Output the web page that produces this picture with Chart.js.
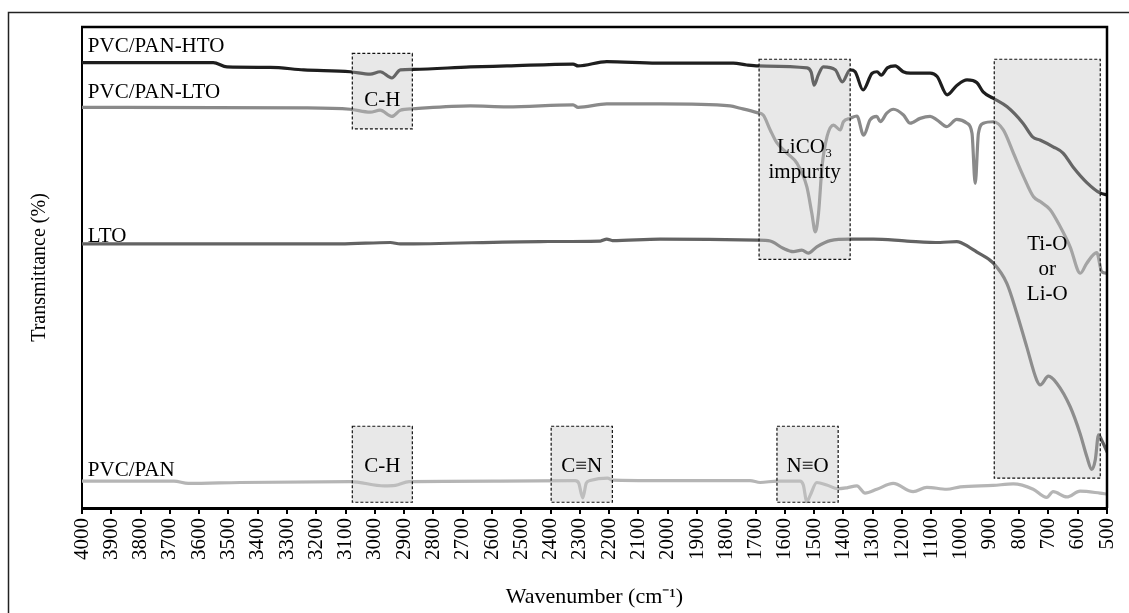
<!DOCTYPE html>
<html>
<head>
<meta charset="utf-8">
<script src="https://cdn.jsdelivr.net/npm/chart.js@4/dist/chart.umd.min.js"></script>
<style>
  html,body{margin:0;padding:0;background:#fff;}
  #wrap{width:1129px;height:613px;}
</style>
</head>
<body>
<div id="wrap"><canvas id="ftir" width="1129" height="613"></canvas></div>
<script>
/* ---------- spectra (wavenumber, cm-1 / transmittance, offset a.u.) ---------- */
const WN_HTO = [4000,3552,3505,3357,3243,3084,3016,2982,2942,2913,2868,2674,2549,2323,2306,2208,2037,1776,1730,1691,
                1524,1510,1500,1486,1469,1428,1404,1377,1360,1333,1302,1285,1271,1250,1223,1196,1172,1104,1080,1046,
                1012,978,944,923,889,841,787,753,729,684,650,616,568,524,500];
const T_HTO  = [92.6,92.6,91.7,91.6,91.1,90.7,90.2,90.7,89.4,91.1,91.2,91.7,91.9,92.3,91.9,92.8,92.5,92.5,92.1,91.9,
                91.5,90.6,87.9,90.0,91.7,91.1,88.6,91.1,90.7,86.9,90.4,90.7,90.0,91.5,91.9,90.7,90.4,90.4,89.7,85.9,
                87.9,89.0,88.4,86.5,85.2,83.4,80.0,77.1,76.5,75.1,73.8,70.9,67.6,65.5,65.1];

const WN_PLTO = [4000,3244,3084,3016,2982,2942,2913,2869,2674,2549,2323,2306,2208,2026,1787,1752,1695,1674,1650,1627,
                 1593,1559,1525,1508,1496,1485,1473,1456,1434,1411,1400,1377,1354,1331,1309,1286,1274,1252,1229,1195,
                 1172,1138,1104,1081,1047,1013,978,961,950,939,922,888,854,819,785,751,728,694,660,626,
                 591,569,535,518,500];
const T_PLTO  = [83.3,83.2,82.9,82.3,82.7,81.4,82.7,83.0,83.6,83.4,83.8,83.3,84.0,84.0,83.6,83.1,82.2,81.7,78.6,75.9,
                 73.8,71.7,66.8,61.3,57.4,61.3,71.0,77.2,79.6,78.6,80.3,81.0,81.5,77.5,80.7,81.4,80.3,82.1,82.9,81.7,
                 80.0,81.0,81.4,80.7,79.3,80.8,80.0,77.9,67.5,77.9,80.0,80.3,78.6,73.7,68.9,64.7,63.7,62.0,58.5,54.3,
                 48.8,50.9,53.1,49.1,48.8];

const WN_LTO = [4000,3118,2947,2913,2435,2230,2208,2189,2026,1695,1650,1606,1571,1542,1520,1491,1445,1377,1298,1183,
                1070,1013,967,944,888,842,808,774,740,728,700,671,626,592,569,552,540,529,518,500];
const T_LTO  = [54.9,54.9,55.2,54.9,55.4,55.5,55.9,55.6,55.9,55.7,55.5,54.0,53.3,53.6,53.0,54.3,55.6,55.9,55.9,55.5,
                55.2,55.4,54.1,53.2,50.9,46.7,40.5,33.5,26.6,25.6,27.4,25.9,21.1,15.5,10.7,8.0,10.0,15.2,14.1,11.7];

const WN_PP = [4000,3686,3637,3460,3084,2968,2930,2883,2572,2316,2304,2290,2278,2265,2205,2189,2026,1719,1684,1627,
               1548,1537,1525,1513,1491,1457,1419,1388,1354,1326,1286,1230,1162,1115,1047,1001,889,820,752,706,
               684,637,592,524,500];
const T_PP  = [5.6,5.6,5.1,5.3,5.5,4.6,4.7,5.5,5.6,5.7,5.2,2.1,5.2,5.7,6.2,5.8,5.7,5.7,5.3,5.6,
               5.6,4.8,1.3,2.7,5.3,4.8,4.0,4.2,4.6,3.1,3.9,5.1,3.4,4.3,3.9,4.4,4.7,5.0,3.9,2.2,
               3.4,2.3,3.5,3.1,2.9];

const SERIES_NAMES  = ['PVC/PAN-HTO','PVC/PAN-LTO','LTO','PVC/PAN'];
const SERIES_COLORS = ['#1e1e1e','#8a8a8a','#636363','#b5b5b5'];

/* x-axis ticks */
const X_MIN = 500, X_MAX = 4000, X_STEP = 100;

/* shaded band assignments: [from, to] cm-1, [top, bottom] in y units */
const BANDS = [
  {text:['C-H'],               from:3077, to:2872, top:94.5, bottom:78.8, ty:84.8},
  {text:['LiCO\u2083','impurity'], from:1688, to:1377, top:93.3, bottom:51.7, ty:72.3},
  {text:['Ti-O','or','Li-O'],  from:885,  to:523,  top:93.3, bottom:6.2,  ty:49.5},
  {text:['C-H'],               from:3077, to:2872, top:17.0, bottom:1.2,  ty:8.7},
  {text:['C\u2261N'],          from:2398, to:2189, top:17.0, bottom:1.2,  ty:8.7},
  {text:['N\u2261O'],          from:1627, to:1418, top:17.0, bottom:1.2,  ty:8.7}
];
/* where each spectrum name sits (cm-1, y units) */
const NAME_AT = [[3980,96.0],[3980,86.3],[3980,56.5],[3980,7.9]];

const SERIF = '"Liberation Serif","Times New Roman",serif';
const pts = (xs, ys) => xs.map((v,i)=>({x:v, y:ys[i]}));

/* ---------- extra drawing: bands, names, frames ---------- */
const decor = {
  id:'decor',
  afterDatasetsDraw(chart){
    const {ctx, scales:{x,y}} = chart;
    ctx.save();
    BANDS.forEach(b=>{
      const l = x.getPixelForValue(b.from), r = x.getPixelForValue(b.to);
      const t = y.getPixelForValue(b.top),  bt = y.getPixelForValue(b.bottom);
      ctx.fillStyle = 'rgba(200,200,200,0.42)';
      ctx.fillRect(l, t, r-l, bt-t);
      ctx.setLineDash([3,2]);
      ctx.lineWidth = 1.2;
      ctx.strokeStyle = '#111';
      ctx.strokeRect(l, t, r-l, bt-t);
      ctx.setLineDash([]);
      ctx.fillStyle = '#000';
      ctx.font = '21px '+SERIF;
      ctx.textAlign = 'center';
      ctx.textBaseline = 'middle';
      const cx = (l+r)/2, cy = y.getPixelForValue(b.ty), lh = 25;
      b.text.forEach((s,i)=>ctx.fillText(s, cx, cy + (i-(b.text.length-1)/2)*lh));
    });
    ctx.font = '21px '+SERIF;
    ctx.textAlign = 'left';
    ctx.textBaseline = 'middle';
    ctx.fillStyle = '#000';
    SERIES_NAMES.forEach((n,i)=>ctx.fillText(n, x.getPixelForValue(NAME_AT[i][0]), y.getPixelForValue(NAME_AT[i][1])));
    ctx.restore();
  },
  afterDraw(chart){
    const {ctx, chartArea:a} = chart;
    ctx.save();
    ctx.strokeStyle = '#000';
    ctx.lineWidth = 2.5;
    ctx.beginPath();
    ctx.moveTo(a.left-1, a.top); ctx.lineTo(a.right, a.top); ctx.lineTo(a.right, a.bottom);
    ctx.stroke();
    ctx.lineWidth = 1.5;
    ctx.strokeStyle = '#222';
    ctx.strokeRect(8.5, 12.5, 1300, 800);
    ctx.restore();
  }
};

const sets = [
  [WN_PP,  T_PP,  3],
  [WN_LTO, T_LTO, 2],
  [WN_PLTO,T_PLTO,1],
  [WN_HTO, T_HTO, 0]
].map(([xs,ys,k])=>({
  label: SERIES_NAMES[k],
  data: pts(xs,ys),
  borderColor: SERIES_COLORS[k],
  borderWidth: 3.2,
  pointRadius: 0,
  cubicInterpolationMode: 'monotone',
  borderJoinStyle: 'round',
  borderCapStyle: 'round',
  fill: false
}));

new Chart(document.getElementById('ftir'), {
  type: 'line',
  data: {datasets: sets},
  plugins: [decor],
  options: {
    responsive: false,
    animation: false,
    events: [],
    layout: {padding: {left: 0, right: 22, top: 27, bottom: 0}},
    plugins: {legend: {display: false}, tooltip: {enabled: false}},
    scales: {
      x: {
        type: 'linear', reverse: true, min: X_MIN, max: X_MAX,
        afterFit: s => { s.height = 105; s.paddingLeft = 0; s.paddingRight = 0; },
        ticks: {
          stepSize: X_STEP, autoSkip: false, minRotation: 90, maxRotation: 90,
          color: '#000', padding: 4, font: {family: SERIF, size: 21},
          callback: v => String(v)
        },
        grid: {display: true, drawOnChartArea: false, drawTicks: true, tickLength: 6, color: '#000', lineWidth: 2},
        border: {display: true, color: '#000', width: 3},
        title: {display: true, text: 'Wavenumber (cm\u207B\u00B9)', color: '#000',
                font: {family: SERIF, size: 22}, padding: {top: 0, bottom: 3}}
      },
      y: {
        type: 'linear', min: 0, max: 100,
        afterFit: s => { s.width = 82; },
        ticks: {display: false},
        grid: {display: false},
        border: {display: true, color: '#000', width: 2},
        title: {display: true, text: 'Transmittance (%)', color: '#000',
                font: {family: SERIF, size: 20}, padding: {top: 28, bottom: 0}}
      }
    }
  }
});
</script>
</body>
</html>
